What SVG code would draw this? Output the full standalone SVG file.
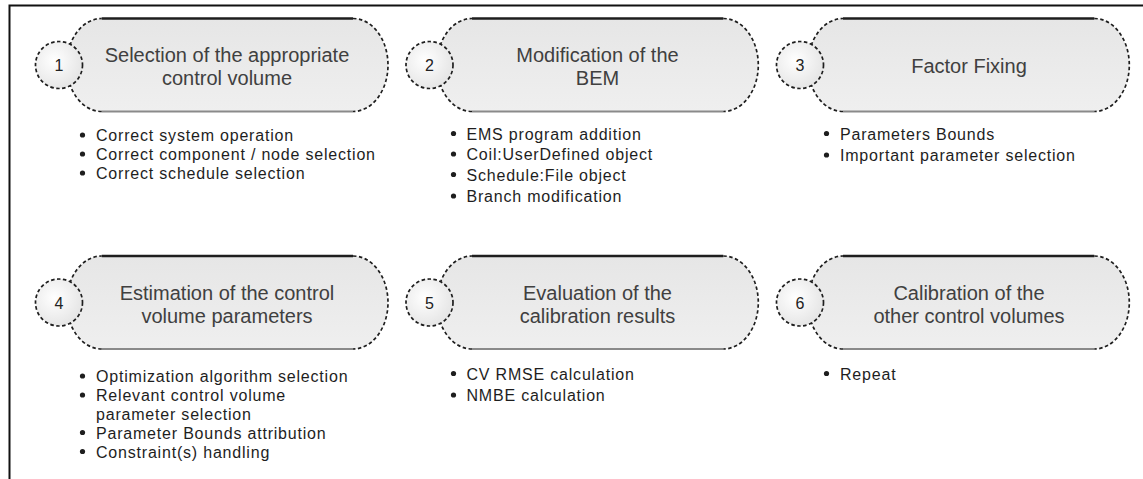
<svg xmlns="http://www.w3.org/2000/svg" xmlns:xlink="http://www.w3.org/1999/xlink" width="1143" height="479" viewBox="0 0 1143 479">
  <style>
    .frame { fill: none; stroke: #111; stroke-width: 2; }
    .pill-fill { fill: url(#pillGrad); stroke: none; }
    .edge-top { fill: none; stroke: #1e1e1e; stroke-width: 2.4; }
    .edge-bot { fill: none; stroke: #8a8a8a; stroke-width: 2; }
    .edge-dash { fill: none; stroke: #1e1e1e; stroke-width: 1.7; stroke-dasharray: 3.5 2.5; }
    .badge { fill: url(#badgeGrad); stroke: #1e1e1e; stroke-width: 1.7; stroke-dasharray: 3.5 2.5; }
    .num { font-family: "Liberation Sans", Arial, sans-serif; font-size: 16px; fill: #222; text-anchor: middle; }
    .title { font-family: "Liberation Sans", Arial, sans-serif; font-size: 20px; fill: #404040; text-anchor: middle; }
    .item { font-family: "Liberation Sans", Arial, sans-serif; font-size: 16px; letter-spacing: 0.8px; fill: #1e1e1e; }
    .dot { fill: #1e1e1e; }
  </style>
  <defs>
    <linearGradient id="pillGrad" x1="0" y1="0" x2="0" y2="1">
      <stop offset="0" stop-color="#e6e6e6"/>
      <stop offset="1" stop-color="#efefef"/>
    </linearGradient>
    <radialGradient id="badgeGrad" cx="0.4" cy="0.4" r="0.7">
      <stop offset="0" stop-color="#ffffff"/>
      <stop offset="1" stop-color="#e2e2e2"/>
    </radialGradient>
    <!-- step shape: origin at the left end of the flat top edge, vertically centred -->
    <g id="pill">
      <path class="pill-fill" d="M0,-46.5 H251.3 A35,46.5 0 0 1 251.3,46.5 H0 A35,46.5 0 0 1 0,-46.5 Z"/>
      <path class="edge-top" d="M0,-46.5 H251.3"/>
      <path class="edge-bot" d="M0,46.5 H251.3"/>
      <path class="edge-dash" d="M251.3,-46.5 A35,46.5 0 0 1 251.3,46.5"/>
      <path class="edge-dash" d="M0,46.5 A35,46.5 0 0 1 0,-46.5"/>
    </g>
    <circle id="badge" class="badge" cx="0" cy="0" r="23.5"/>
  </defs>

  <!-- outer frame (top and left edges) -->
  <path class="frame" d="M9.5,479 V5.5 H1143"/>

  <g id="step1">
    <use xlink:href="#pill" transform="translate(101.7,65)"/>
    <use xlink:href="#badge" transform="translate(59,65)"/>
    <text class="num" x="59" y="71">1</text>
    <text class="title" x="227" y="62">Selection of the appropriate</text>
    <text class="title" x="227" y="85">control volume</text>
    <circle class="dot" cx="82.5" cy="135" r="2.6"/>
    <text class="item" x="96" y="141">Correct system operation</text>
    <circle class="dot" cx="82.5" cy="154" r="2.6"/>
    <text class="item" x="96" y="160">Correct component / node selection</text>
    <circle class="dot" cx="82.5" cy="173" r="2.6"/>
    <text class="item" x="96" y="179">Correct schedule selection</text>
  </g>

  <g id="step2">
    <use xlink:href="#pill" transform="translate(472,65)"/>
    <use xlink:href="#badge" transform="translate(429.5,65)"/>
    <text class="num" x="429.5" y="71">2</text>
    <text class="title" x="597.5" y="62">Modification of the</text>
    <text class="title" x="597.5" y="85">BEM</text>
    <circle class="dot" cx="453.5" cy="133.5" r="2.6"/>
    <text class="item" x="466.5" y="139.5">EMS program addition</text>
    <circle class="dot" cx="453.5" cy="154" r="2.6"/>
    <text class="item" x="466.5" y="160">Coil:UserDefined object</text>
    <circle class="dot" cx="453.5" cy="174.5" r="2.6"/>
    <text class="item" x="466.5" y="180.5">Schedule:File object</text>
    <circle class="dot" cx="453.5" cy="196" r="2.6"/>
    <text class="item" x="466.5" y="202">Branch modification</text>
  </g>

  <g id="step3">
    <use xlink:href="#pill" transform="translate(843,65)"/>
    <use xlink:href="#badge" transform="translate(800,65)"/>
    <text class="num" x="800" y="71">3</text>
    <text class="title" x="969" y="73">Factor Fixing</text>
    <circle class="dot" cx="826.5" cy="133.5" r="2.6"/>
    <text class="item" x="840" y="139.5">Parameters Bounds</text>
    <circle class="dot" cx="826.5" cy="155" r="2.6"/>
    <text class="item" x="840" y="161">Important parameter selection</text>
  </g>

  <g id="step4">
    <use xlink:href="#pill" transform="translate(101.7,302.5)"/>
    <use xlink:href="#badge" transform="translate(59,302.5)"/>
    <text class="num" x="59" y="308.5">4</text>
    <text class="title" x="227" y="300">Estimation of the control</text>
    <text class="title" x="227" y="323">volume parameters</text>
    <circle class="dot" cx="82.5" cy="376" r="2.6"/>
    <text class="item" x="96" y="382">Optimization algorithm selection</text>
    <circle class="dot" cx="82.5" cy="395" r="2.6"/>
    <text class="item" x="96" y="401">Relevant control volume</text>
    <text class="item" x="96" y="419.5">parameter selection</text>
    <circle class="dot" cx="82.5" cy="432.5" r="2.6"/>
    <text class="item" x="96" y="438.5">Parameter Bounds attribution</text>
    <circle class="dot" cx="82.5" cy="451.5" r="2.6"/>
    <text class="item" x="96" y="457.5">Constraint(s) handling</text>
  </g>

  <g id="step5">
    <use xlink:href="#pill" transform="translate(472,302.5)"/>
    <use xlink:href="#badge" transform="translate(429.5,302.5)"/>
    <text class="num" x="429.5" y="308.5">5</text>
    <text class="title" x="597.5" y="300">Evaluation of the</text>
    <text class="title" x="597.5" y="323">calibration results</text>
    <circle class="dot" cx="453.5" cy="373.5" r="2.6"/>
    <text class="item" x="466.5" y="379.5">CV RMSE calculation</text>
    <circle class="dot" cx="453.5" cy="395" r="2.6"/>
    <text class="item" x="466.5" y="401">NMBE calculation</text>
  </g>

  <g id="step6">
    <use xlink:href="#pill" transform="translate(843,302.5)"/>
    <use xlink:href="#badge" transform="translate(800,302.5)"/>
    <text class="num" x="800" y="308.5">6</text>
    <text class="title" x="969" y="300">Calibration of the</text>
    <text class="title" x="969" y="323">other control volumes</text>
    <circle class="dot" cx="826.5" cy="373.5" r="2.6"/>
    <text class="item" x="840" y="379.5">Repeat</text>
  </g>

  <!-- the steps are laid out in a grid; there are no connecting lines -->
  <g id="connectors"/>
</svg>
